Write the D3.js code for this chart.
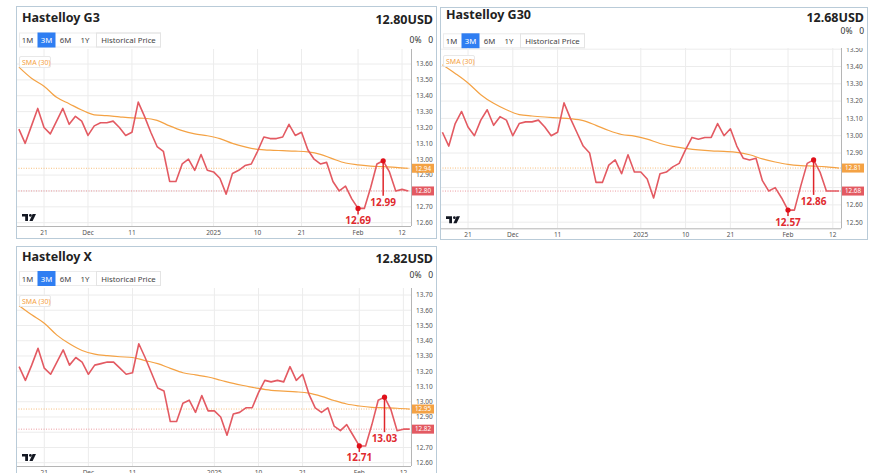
<!DOCTYPE html>
<html>
<head>
<meta charset="utf-8">
<script src="https://cdn.jsdelivr.net/npm/d3@7"></script>
<style>
  body { margin: 0; background: #fff; }
  svg { font-family: "Noto Sans", "Open Sans", sans-serif; }
</style>
</head>
<body>
<div id="container"></div>
<script>
/* DATA */
// x axis: trading days, labels sit on these day indexes
const xTickLabels = ["21", "Dec", "11", "2025", "10", "21", "Feb", "12"];
const xTickIdx = [4, 11, 18, 31, 38, 45, 54, 61];
const buttons = ["1M", "3M", "6M", "1Y", "Historical Price"];

// Hastelloy G3
const g3Price = [13.19, 13.10, 13.21, 13.32, 13.20, 13.16, 13.24, 13.32, 13.22, 13.27,
  13.24, 13.15, 13.21, 13.23, 13.23, 13.24, 13.20, 13.15, 13.17, 13.36,
  13.27, 13.17, 13.08, 13.05, 12.86, 12.86, 12.97, 13.00, 12.93, 13.03,
  12.93, 12.92, 12.88, 12.78, 12.91, 12.93, 12.96, 12.97, 13.05, 13.14,
  13.13, 13.13, 13.14, 13.22, 13.15, 13.17, 13.06, 13.00, 12.97, 12.98,
  12.86, 12.80, 12.83, 12.75, 12.69, 12.69, 12.82, 12.97, 12.99, 12.92,
  12.80, 12.81, 12.80];
// SMA(30), read every second day
const g3Sma = [13.58, 13.51, 13.46, 13.39, 13.35, 13.31, 13.28, 13.275, 13.267, 13.26,
  13.258, 13.245, 13.21, 13.18, 13.16, 13.148, 13.13, 13.10, 13.078, 13.062,
  13.057, 13.054, 13.051, 13.046, 13.031, 13.002, 12.976, 12.964, 12.957, 12.953,
  12.949, 12.943];
const g3Ticks = [12.6, 12.7, 12.8, 12.9, 13.0, 13.1, 13.2, 13.3, 13.4, 13.5, 13.6];
const g3Marks = [54, 58]; // annotated low / high

// Hastelloy G30
const g30Price = [13.02, 12.94, 13.07, 13.14, 13.05, 13.00, 13.09, 13.15, 13.06, 13.11,
  13.09, 13.00, 13.07, 13.08, 13.08, 13.09, 13.05, 13.00, 13.02, 13.19,
  13.10, 13.02, 12.94, 12.90, 12.73, 12.73, 12.83, 12.86, 12.78, 12.89,
  12.79, 12.79, 12.75, 12.64, 12.78, 12.79, 12.82, 12.84, 12.92, 12.99,
  12.98, 12.99, 12.99, 13.07, 13.00, 13.04, 12.94, 12.87, 12.86, 12.87,
  12.74, 12.68, 12.70, 12.64, 12.57, 12.57, 12.71, 12.84, 12.86, 12.79,
  12.68, 12.68, 12.68];
const g30Sma = [13.41, 13.36, 13.305, 13.237, 13.187, 13.15, 13.122, 13.114, 13.108, 13.103,
  13.098, 13.087, 13.06, 13.03, 13.007, 12.998, 12.98, 12.955, 12.938, 12.927,
  12.918, 12.912, 12.909, 12.904, 12.89, 12.866, 12.848, 12.834, 12.827, 12.824,
  12.82, 12.813];
const g30Ticks = [12.5, 12.6, 12.7, 12.8, 12.9, 13.0, 13.1, 13.2, 13.3, 13.4, 13.5];
const g30Marks = [54, 58];

// Hastelloy X
const xPrice = [13.23, 13.14, 13.24, 13.35, 13.22, 13.18, 13.26, 13.34, 13.24, 13.29,
  13.26, 13.18, 13.24, 13.25, 13.26, 13.26, 13.22, 13.18, 13.19, 13.38,
  13.29, 13.19, 13.09, 13.07, 12.87, 12.87, 12.99, 13.01, 12.93, 13.04,
  12.94, 12.94, 12.90, 12.78, 12.92, 12.93, 12.96, 12.96, 13.06, 13.14,
  13.13, 13.14, 13.13, 13.23, 13.14, 13.18, 13.05, 12.96, 12.93, 12.96,
  12.84, 12.81, 12.85, 12.78, 12.71, 12.71, 12.85, 13.01, 13.03, 12.95,
  12.81, 12.82, 12.82];
const xSma = [13.63, 13.57, 13.515, 13.437, 13.38, 13.336, 13.312, 13.302, 13.295, 13.29,
  13.27, 13.25, 13.219, 13.19, 13.176, 13.162, 13.141, 13.12, 13.103, 13.087,
  13.075, 13.07, 13.065, 13.056, 13.035, 13.008, 12.985, 12.972, 12.963, 12.96,
  12.957, 12.952];
const xTicks = [12.6, 12.7, 12.8, 12.9, 13.0, 13.1, 13.2, 13.3, 13.4, 13.5, 13.6, 13.7];
const xMarks = [54, 58];

/* LAYOUT */
const width = 874, height = 473;
const red = "#e35a62", orange = "#f4a244", blue = "#2f7ef2";

const panels = [
  { name: "Hastelloy G3", price: g3Price, sma: g3Sma, ticks: g3Ticks, marks: g3Marks,
    box: [16, 6, 420, 232], titleY: 21.5, usdY: 24, pctY: 43, btnY: 32.5,
    xr: [18.9, 408.3], axisX: 411, top: 49, bottom: 226, yd: [12.6, 13.6], yr: [222.7, 64] },
  { name: "Hastelloy G30", price: g30Price, sma: g30Sma, ticks: g30Ticks, marks: g30Marks,
    box: [440, 7, 427, 232], titleY: 18.5, usdY: 21.5, pctY: 33.5, btnY: 33.3,
    xr: [442.4, 839.2], axisX: 841, top: 48, bottom: 228.3, yd: [12.5, 13.4], yr: [222.2, 66.5] },
  { name: "Hastelloy X", price: xPrice, sma: xSma, ticks: xTicks, marks: xMarks,
    box: [16, 246, 420, 240], titleY: 261, usdY: 263, pctY: 277.5, btnY: 271,
    xr: [19.1, 409.7], axisX: 411, top: 288, bottom: 466, yd: [12.6, 13.7], yr: [462.7, 295] }
];

const svg = d3.select("#container")
  .append("svg")
  .attr("width", width)
  .attr("height", height);

const defs = svg.append("defs");

panels.forEach((p, k) => {
  const [bx, by, bw, bh] = p.box;
  const g = svg.append("g");

  const xScale = d3.scaleLinear().domain([0, p.price.length - 1]).range(p.xr);
  const yScale = d3.scaleLinear().domain(p.yd).range(p.yr);

  const last = p.price[p.price.length - 1];
  const smaLast = p.sma[p.sma.length - 1];

  // frame
  g.append("rect")
    .attr("x", bx + 0.5).attr("y", by + 0.5)
    .attr("width", bw).attr("height", bh)
    .attr("fill", "#fff").attr("stroke", "#b9cbd8");

  // header
  g.append("text").attr("x", bx + 6).attr("y", p.titleY)
    .attr("font-size", 12.5).attr("font-weight", 700).attr("fill", "#222")
    .text(p.name);
  g.append("text").attr("x", bx + bw - 3).attr("y", p.usdY)
    .attr("text-anchor", "end").attr("font-size", 12.5).attr("font-weight", 700).attr("fill", "#222")
    .text(last.toFixed(2) + "USD");
  g.append("text").attr("x", bx + bw - 3).attr("y", p.pctY)
    .attr("text-anchor", "end").attr("font-size", 8.5).attr("fill", "#333")
    .attr("xml:space", "preserve")
    .text("0%   0");

  // period buttons
  const btnX = [11.5, 30.5, 49.5, 69, 112.5];
  g.append("rect").attr("x", bx + 3.5).attr("y", p.btnY + 0.5)
    .attr("width", 141).attr("height", 14)
    .attr("fill", "none").attr("stroke", "#ececec");
  g.append("rect").attr("x", bx + 80.5).attr("y", p.btnY + 0.5)
    .attr("width", 64).attr("height", 14)
    .attr("fill", "none").attr("stroke", "#e4e4e4");
  g.append("rect").attr("x", bx + 21.5).attr("y", p.btnY)
    .attr("width", 18).attr("height", 15).attr("fill", blue);
  buttons.forEach((b, i) => {
    g.append("text").attr("x", bx + btnX[i]).attr("y", p.btnY + 10.5)
      .attr("text-anchor", "middle").attr("font-size", 7.8)
      .attr("fill", i === 1 ? "#fff" : "#444")
      .text(b);
  });

  // clip for plot
  defs.append("clipPath").attr("id", "clip" + k)
    .append("rect")
    .attr("x", bx + 1).attr("y", p.top)
    .attr("width", p.axisX - bx - 1).attr("height", p.bottom - p.top);
  defs.append("clipPath").attr("id", "clipAx" + k)
    .append("rect")
    .attr("x", p.axisX).attr("y", p.top)
    .attr("width", 40).attr("height", p.bottom - p.top);

  const plot = g.append("g").attr("clip-path", `url(#clip${k})`);

  // grid
  plot.selectAll(".vg").data(xTickIdx).join("line")
    .attr("x1", d => xScale(d)).attr("x2", d => xScale(d))
    .attr("y1", p.top).attr("y2", p.bottom)
    .attr("stroke", "#ececec");
  plot.selectAll(".hg").data(p.ticks).join("line")
    .attr("x1", bx).attr("x2", p.axisX)
    .attr("y1", d => yScale(d)).attr("y2", d => yScale(d))
    .attr("stroke", "#ececec");

  // dotted reference lines
  plot.append("line")
    .attr("x1", bx).attr("x2", p.axisX)
    .attr("y1", yScale(smaLast)).attr("y2", yScale(smaLast))
    .attr("stroke", orange).attr("stroke-opacity", 0.7).attr("stroke-dasharray", "1,1.5");
  plot.append("line")
    .attr("x1", bx).attr("x2", p.axisX)
    .attr("y1", yScale(last)).attr("y2", yScale(last))
    .attr("stroke", red).attr("stroke-opacity", 0.6).attr("stroke-dasharray", "1,1.5");

  // SMA line
  const smaLine = d3.line().x((d, i) => xScale(i * 2)).y(d => yScale(d)).curve(d3.curveMonotoneX);
  plot.append("path").datum(p.sma)
    .attr("d", smaLine)
    .attr("fill", "none").attr("stroke", orange).attr("stroke-width", 1.2);

  // price line
  const priceLine = d3.line().x((d, i) => xScale(i)).y(d => yScale(d));
  plot.append("path").datum(p.price)
    .attr("d", priceLine)
    .attr("fill", "none").attr("stroke", red).attr("stroke-width", 1.6)
    .attr("stroke-linejoin", "round");

  // axes lines
  g.append("line").attr("x1", p.axisX + 0.5).attr("x2", p.axisX + 0.5)
    .attr("y1", p.top).attr("y2", p.bottom).attr("stroke", "#b5b5b5");
  g.append("line").attr("x1", bx + 1).attr("x2", p.axisX)
    .attr("y1", p.bottom + 0.5).attr("y2", p.bottom + 0.5).attr("stroke", "#b5b5b5");

  // y tick labels (the ones under a price tag are hidden by it)
  const tagYs = [yScale(smaLast), yScale(last)];
  g.append("g").attr("clip-path", `url(#clipAx${k})`)
    .selectAll("text")
    .data(p.ticks.filter(t => tagYs.every(ty => Math.abs(yScale(t) - ty) > 5.5)))
    .join("text")
    .attr("x", p.axisX + 5).attr("y", d => yScale(d) + 2.3)
    .attr("font-size", 6.5).attr("fill", "#555")
    .text(d => d.toFixed(2));

  // x tick labels
  g.selectAll(".xl").data(xTickIdx).join("text")
    .attr("x", d => xScale(d)).attr("y", p.bottom + 8.5)
    .attr("text-anchor", "middle").attr("font-size", 6.5).attr("fill", "#555")
    .text((d, i) => xTickLabels[i]);

  // price tags on the axis
  [[smaLast, orange], [last, red]].forEach(([v, c]) => {
    g.append("rect").attr("x", p.axisX + 1).attr("y", yScale(v) - 4.5)
      .attr("width", 22).attr("height", 9).attr("fill", c);
    g.append("text").attr("x", p.axisX + 12).attr("y", yScale(v) + 2.3)
      .attr("text-anchor", "middle").attr("font-size", 6.3).attr("fill", "#fff")
      .text(v.toFixed(2));
  });

  // SMA legend
  g.append("rect").attr("x", bx + 3.5).attr("y", p.top + 7.5)
    .attr("width", 31).attr("height", 11).attr("rx", 1.5)
    .attr("fill", "#fff").attr("stroke", "#e8e8e8");
  g.append("text").attr("x", bx + 6).attr("y", p.top + 15.5)
    .attr("font-size", 7).attr("fill", orange).text("SMA (30)");

  // low / high annotations
  const [lo, hi] = p.marks;
  const loY = yScale(p.price[lo]), hiY = yScale(p.price[hi]);
  g.append("line").attr("x1", xScale(lo)).attr("x2", xScale(lo))
    .attr("y1", loY).attr("y2", loY + 6).attr("stroke", "#e0262b").attr("stroke-width", 1.5);
  g.append("line").attr("x1", xScale(hi)).attr("x2", xScale(hi))
    .attr("y1", hiY).attr("y2", hiY + 35).attr("stroke", "#e0262b").attr("stroke-width", 1.5);
  [lo, hi].forEach(i => {
    g.append("circle").attr("cx", xScale(i)).attr("cy", yScale(p.price[i]))
      .attr("r", 2.6).attr("fill", "#e0101a");
  });
  g.append("text").attr("x", xScale(lo)).attr("y", loY + 15.5)
    .attr("text-anchor", "middle").attr("font-size", 10).attr("font-weight", 700)
    .attr("fill", "#e02a2f").text(p.price[lo].toFixed(2));
  g.append("text").attr("x", xScale(hi)).attr("y", hiY + 45)
    .attr("text-anchor", "middle").attr("font-size", 10).attr("font-weight", 700)
    .attr("fill", "#e02a2f").text(p.price[hi].toFixed(2));

  // TradingView mark
  const tv = g.append("g").attr("transform", `translate(${bx + 6},${p.bottom - 12})`).attr("fill", "#131722");
  tv.append("path").attr("d", "M0 0 H6 V7 H3.2 V2.6 H0 Z");
  tv.append("circle").attr("cx", 8.4).attr("cy", 1.4).attr("r", 1.4);
  tv.append("path").attr("d", "M10.6 0 H14 L10.6 7 H7.4 Z");
});
</script>
</body>
</html>
